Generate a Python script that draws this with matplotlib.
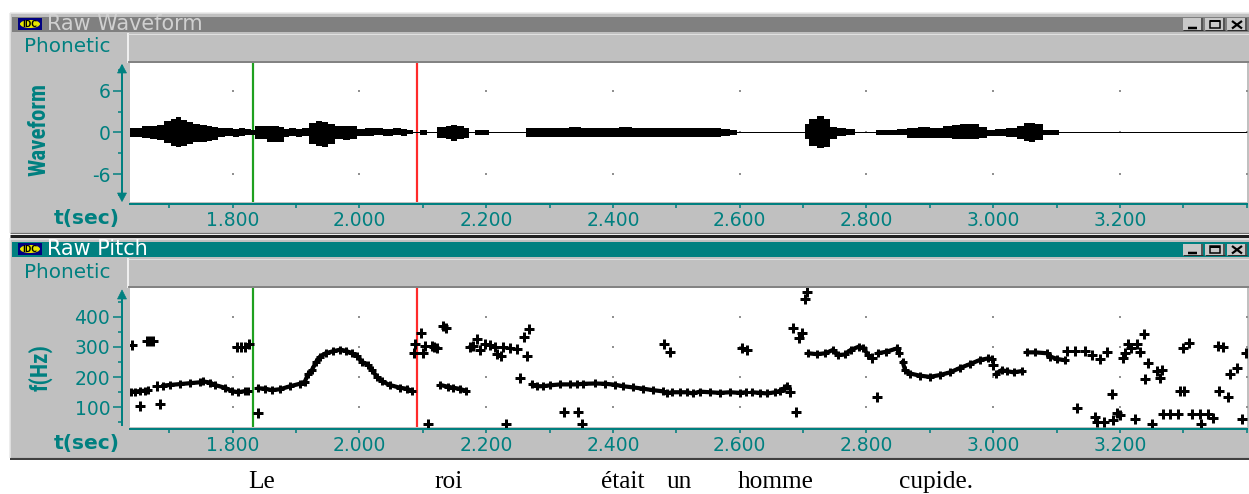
import matplotlib
matplotlib.use('Agg')
import matplotlib.pyplot as plt
from matplotlib import font_manager as fm
from matplotlib.patches import Rectangle, Polygon, Ellipse
from matplotlib.ticker import FixedLocator, FixedFormatter

# ---------------- data ----------------
x_major = [1.8, 2.0, 2.2, 2.4, 2.6, 2.8, 3.0, 3.2, 3.4]
x_major_labels = ['1.800', '2.000', '2.200', '2.400', '2.600', '2.800', '3.000', '3.200', '']
x_minor = [1.7, 1.9, 2.1, 2.3, 2.5, 2.7, 2.9, 3.1, 3.3]
t_range = (1.6383, 3.4002)

wave_yticks = [-6, 0, 6]
wave_yminor = [-9, -3, 3, 9]
pitch_yticks = [100, 200, 300, 400]
pitch_yminor = [50, 150, 250, 350, 450]

cursor_green = 1.833
cursor_red = 2.0905

# waveform amplitude envelope (time, upper, lower)
wave_t = [1.639, 1.650, 1.664, 1.675, 1.687, 1.698, 1.708, 1.715, 1.723, 1.732, 1.743, 1.755,
          1.765, 1.771, 1.782, 1.795, 1.805, 1.815, 1.825, 1.833, 1.839, 1.850, 1.860, 1.870,
          1.878, 1.884, 1.895, 1.905, 1.915, 1.926, 1.936, 1.946, 1.955, 1.968, 1.980, 1.990,
          2.002, 2.015, 2.030, 2.045, 2.060, 2.070, 2.081, 2.089, 2.101, 2.112, 2.132, 2.140,
          2.149, 2.160, 2.170, 2.177, 2.188, 2.200, 2.208, 2.261, 2.265, 2.280, 2.300, 2.320,
          2.340, 2.360, 2.380, 2.400, 2.420, 2.440, 2.460, 2.480, 2.500, 2.520, 2.540, 2.560,
          2.580, 2.590, 2.600, 2.700, 2.705, 2.715, 2.729, 2.738, 2.746, 2.760, 2.775, 2.790,
          2.840, 2.855, 2.872, 2.890, 2.910, 2.930, 2.941, 2.955, 2.970, 2.985, 2.995, 3.010,
          3.030, 3.044, 3.052, 3.061, 3.072, 3.084, 3.100, 3.107, 3.400]
wave_hi = [0.6, 0.6, 0.9, 1.0, 1.1, 1.6, 1.9, 2.2, 1.8, 1.5, 1.2, 1.1,
           1.0, 0.8, 0.6, 0.7, 0.5, 0.6, 0.5, 0.3, 0.9, 1.0, 0.9, 0.9,
           0.8, 0.5, 0.6, 0.5, 0.6, 1.4, 1.6, 1.5, 1.2, 1.0, 1.0, 0.9,
           0.5, 0.6, 0.6, 0.5, 0.6, 0.5, 0.3, 0.12, 0.3, 0.12, 0.8, 1.0,
           1.1, 1.0, 0.7, 0.12, 0.3, 0.3, 0.12, 0.12, 0.6, 0.6, 0.7, 0.6,
           0.8, 0.6, 0.7, 0.6, 0.8, 0.6, 0.7, 0.6, 0.6, 0.6, 0.6, 0.6,
           0.5, 0.3, 0.12, 0.12, 1.2, 2.0, 2.4, 2.0, 0.8, 0.6, 0.5, 0.12,
           0.3, 0.5, 0.7, 0.8, 0.7, 0.9, 1.1, 1.2, 1.2, 0.8, 0.4, 0.5,
           0.6, 1.0, 1.3, 1.4, 1.2, 0.4, 0.3, 0.12, 0.12]
wave_lo = [-0.6, -0.7, -0.8, -0.9, -1.1, -1.5, -1.9, -2.1, -1.9, -1.6, -1.4, -1.3,
           -1.2, -1.1, -0.6, -0.5, -0.6, -0.5, -0.4, -0.3, -1.0, -1.0, -1.4, -1.3,
           -1.4, -0.6, -0.5, -0.6, -0.5, -1.7, -2.0, -2.1, -1.6, -1.0, -1.1, -1.0,
           -0.5, -0.5, -0.4, -0.5, -0.4, -0.5, -0.2, -0.12, -0.3, -0.12, -0.8, -1.0,
           -1.2, -1.0, -0.8, -0.12, -0.3, -0.3, -0.12, -0.12, -0.7, -0.6, -0.7, -0.6,
           -0.7, -0.6, -0.7, -0.6, -0.7, -0.6, -0.6, -0.6, -0.7, -0.6, -0.6, -0.6,
           -0.5, -0.3, -0.12, -0.12, -1.0, -2.0, -2.3, -2.1, -0.9, -0.5, -0.4, -0.12,
           -0.3, -0.4, -0.8, -0.8, -0.8, -0.8, -0.9, -1.0, -1.0, -0.8, -0.5, -0.5,
           -0.6, -0.9, -1.2, -1.3, -1.1, -0.4, -0.3, -0.12, -0.12]

# pitch contour segments (time s, Hz)
seg1a_t = [1.640, 1.646, 1.654, 1.662, 1.667]
seg1a_hz = [152, 152, 154, 155, 156]
seg1b_t = [1.690, 1.701, 1.717, 1.733, 1.749, 1.753, 1.765, 1.772, 1.788, 1.799, 1.809, 1.820, 1.824]
seg1b_hz = [172, 174, 177, 180, 183, 186, 182, 174, 165, 154, 150, 154, 155]
seg2_t = [1.840, 1.851, 1.862, 1.875, 1.891, 1.906, 1.914, 1.919, 1.925, 1.932, 1.938, 1.947, 1.959,
          1.970, 1.979, 1.988, 1.996, 2.004, 2.014, 2.020, 2.028, 2.036, 2.048, 2.064, 2.076, 2.083]
seg2_hz = [163, 162, 157, 160, 170, 178, 185, 209, 223, 251, 268, 279, 286,
           291, 287, 279, 271, 251, 240, 223, 201, 186, 174, 165, 161, 154]
seg3_t = [2.128, 2.140, 2.148, 2.159, 2.169]
seg3_hz = [174, 168, 165, 161, 154]
seg4_t = [2.272, 2.280, 2.290, 2.301, 2.317, 2.332, 2.343, 2.353, 2.372, 2.388, 2.403, 2.416, 2.432,
          2.447, 2.463, 2.479, 2.485, 2.493, 2.506, 2.517, 2.526, 2.537, 2.553, 2.569, 2.585, 2.600, 2.610]
seg4_hz = [176, 170, 170, 173, 176, 176, 176, 178, 179, 178, 175, 170, 166,
           162, 157, 153, 146, 150, 150, 150, 146, 152, 150, 148, 150, 148, 150]
seg5_t = [2.619, 2.632, 2.643, 2.656, 2.664, 2.670, 2.675]
seg5_hz = [150, 148, 146, 150, 155, 163, 171]
seg6_t = [2.708, 2.722, 2.735, 2.747, 2.755, 2.766, 2.775, 2.788, 2.795, 2.803]
seg6_hz = [279, 276, 279, 290, 273, 275, 290, 301, 296, 273]
seg7_t = [2.818, 2.831, 2.848, 2.852]
seg7_hz = [279, 284, 295, 279]
seg8_t = [2.857, 2.861, 2.869, 2.884, 2.900, 2.916, 2.932, 2.947, 2.963, 2.979, 2.992, 2.998]
seg8_hz = [251, 223, 212, 205, 201, 207, 216, 230, 243, 257, 262, 260]
seg9_t = [3.005, 3.013, 3.021, 3.032, 3.045]
seg9_hz = [212, 223, 220, 216, 220]
seg10_t = [3.053, 3.066, 3.085, 3.090, 3.101, 3.113]
seg10_hz = [282, 282, 279, 268, 260, 256]

# isolated pitch estimates
iso_t = [1.642, 1.665, 1.670, 1.674, 1.654, 1.686, 1.681, 1.807, 1.813, 1.820, 1.826, 1.840,
         2.088, 2.086, 2.097, 2.104, 2.100, 2.114, 2.118, 2.122, 2.132, 2.137, 2.175, 2.180,
         2.186, 2.191, 2.198, 2.206, 2.214, 2.217, 2.223, 2.227, 2.238, 2.249, 2.260, 2.264,
         2.268, 2.253, 2.109, 2.232, 2.323, 2.345, 2.351, 2.481, 2.490, 2.604, 2.611, 2.679,
         2.689, 2.706, 2.703, 2.684, 2.699, 2.694, 2.816, 2.809, 2.999, 3.116, 3.129, 3.145,
         3.156, 3.168, 3.179, 3.187, 3.132, 3.160, 3.163, 3.174, 3.189, 3.195, 3.200, 3.204,
         3.207, 3.213, 3.218, 3.226, 3.231, 3.237, 3.244, 3.239, 3.258, 3.266, 3.263, 3.300,
         3.309, 3.355, 3.363, 3.373, 3.384, 3.399, 3.223, 3.251, 3.268, 3.279, 3.292, 3.295,
         3.301, 3.313, 3.326, 3.339, 3.327, 3.347, 3.356, 3.370, 3.392]
iso_hz = [306, 320, 321, 318, 105, 111, 170, 300, 300, 300, 311, 82,
          309, 279, 347, 303, 279, 303, 300, 295, 370, 361, 300, 303,
          325, 290, 310, 305, 301, 276, 271, 299, 296, 293, 334, 270,
          358, 198, 44, 44, 85, 85, 44, 309, 284, 297, 289, 150,
          85, 483, 458, 362, 347, 328, 135, 262, 240, 287, 287, 287,
          273, 260, 284, 144, 97, 67, 53, 53, 58, 80, 74, 265,
          279, 309, 295, 309, 284, 342, 246, 193, 220, 223, 198, 295,
          314, 303, 301, 209, 231, 279, 61, 44, 77, 77, 77, 154,
          154, 77, 77, 77, 44, 64, 154, 135, 61]

caption_words = ['Le', 'roi', 'était', 'un', 'homme', 'cupide.']
caption_x = [262, 449, 623, 679, 776, 936]

# ---------------- style ----------------
W, H = 1249, 494
TEAL = '#008080'
GRAY = '#c0c0c0'
DGRAY = '#808080'
PX = 0.72  # points per pixel at dpi 100

fig = plt.figure(figsize=(W / 100, H / 100), dpi=100)
fig.patch.set_facecolor('white')
R = fig.canvas.get_renderer()

bg = fig.add_axes([0, 0, 1, 1], zorder=0)
bg.set_xlim(0, W)
bg.set_ylim(H, 0)
bg.axis('off')


def pick_condensed():
    names = {f.name for f in fm.fontManager.ttflist}
    for n in ['Roboto Condensed', 'Liberation Sans Narrow', 'Open Sans Condensed']:
        if n in names:
            return dict(family=n)
    for f in fm.fontManager.ttflist:
        if f.name == 'DejaVu Sans' and 'Condensed-Bold' in f.fname:
            return dict(family='DejaVu Sans', stretch='condensed')
    return dict(family='DejaVu Sans')


COND = pick_condensed()


def fit(txt, target, vertical=False):
    for _ in range(3):
        bb = txt.get_window_extent(renderer=R)
        cur = bb.height if vertical else bb.width
        if cur <= 0:
            break
        txt.set_fontsize(txt.get_fontsize() * target / cur)


def rect(x0, y0, x1, y1, fc, ec='none', lw=0.0, z=1):
    bg.add_patch(Rectangle((x0, y0), x1 - x0, y1 - y0, facecolor=fc,
                           edgecolor=ec, linewidth=lw, zorder=z))


def line(xs, ys, c, lwpx=1.0, z=2):
    bg.plot(xs, ys, color=c, lw=lwpx * PX, zorder=z, solid_capstyle='butt')


def window(top, bottom, title, active):
    rect(10, top, W, bottom, GRAY, z=1)
    line([10, W], [top + 0.5, top + 0.5], '#e8e8e8', 1.5)
    line([10.5, 10.5], [top, bottom], '#e8e8e8', 1.5)
    line([10, W], [bottom - 0.5, bottom - 0.5], '#707070', 1.2)
    rect(12, top + 3.7, W, top + 18.7, TEAL if active else DGRAY, z=2)
    # icon
    rect(18, top + 4.8, 42, top + 17.2, '#000080', z=3)
    bg.add_patch(Ellipse((30, top + 11), 20, 8, facecolor='#e8e800', edgecolor='none', zorder=4))
    bg.text(30, top + 11.2, 'IDC', fontsize=5.5, fontweight='bold', color='black',
            ha='center', va='center', zorder=5)
    t = bg.text(47, top + 11.0, title, color='white' if active else '#d0d0d0',
                fontsize=14, ha='left', va='center', zorder=5)
    # buttons
    for (x0, x1) in [(1183, 1203), (1205, 1225), (1227, 1247)]:
        rect(x0, top + 5.5, x1, top + 17.5, '#c8c8c8', z=4)
        line([x1 - 0.5, x1 - 0.5], [top + 5.5, top + 17.5], '#303030', 1.5, z=5)
        line([x0, x1], [top + 17, top + 17], '#303030', 1.0, z=5)
    line([1188, 1197], [top + 15, top + 15], 'black', 2.5, z=6)
    bg.add_patch(Rectangle((1210, top + 8), 10, 7, facecolor='none', edgecolor='black',
                           linewidth=1.5 * PX, zorder=6))
    line([1210, 1220], [top + 8.5, top + 8.5], 'black', 2.0, z=6)
    line([1232, 1242], [top + 8, top + 15.5], 'black', 2.2, z=6)
    line([1232, 1242], [top + 15.5, top + 8], 'black', 2.2, z=6)
    # phonetic bar
    p = bg.text(24, top + 34, 'Phonetic', color=TEAL, fontsize=14, ha='left', va='center', zorder=5)
    rect(128, top + 20.3, W, top + 49.7, GRAY, z=2)
    line([128.5, 128.5], [top + 20.3, top + 49.7], 'white', 1.5, z=3)
    line([128, W], [top + 20.8, top + 20.8], '#e0e0e0', 1.0, z=3)
    line([128, W], [top + 49.2, top + 49.2], '#707070', 1.5, z=3)
    return t, p


t1, p1 = window(13, 233, 'Raw Waveform', False)
line([10, W], [235.5, 235.5], '#202020', 3.0, z=2)
t2, p2 = window(238, 458, 'Raw Pitch', True)
line([10, W], [459, 459], '#404040', 2.0, z=2)

fit(t1, 155)
t2.set_fontsize(t1.get_fontsize())
fit(p1, 86)
p2.set_fontsize(p1.get_fontsize())

# axis arrows (decoration on the pixel canvas)
for (xa, ytip, ybase) in [(122, 64.5, 73), (122, 201.5, 193), (122, 290, 299)]:
    bg.add_patch(Polygon([(xa - 4.5, ybase), (xa + 4.5, ybase), (xa, ytip)], closed=True,
                         facecolor=TEAL, edgecolor=TEAL, lw=0.5, zorder=5))

# rotated y labels and t(sec)
yl1 = bg.text(39, 129, 'Waveform', rotation=90, color=TEAL, fontweight='bold',
              ha='center', va='center', fontsize=14, zorder=5, **COND)
fit(yl1, 93, vertical=True)
yl2 = bg.text(40.5, 367, 'f(Hz)', rotation=90, color=TEAL, fontweight='bold',
              ha='center', va='center', fontsize=yl1.get_fontsize(), zorder=5, **COND)
for yy in (218.5, 443.5):
    ts = bg.text(87, yy, 't(sec)', color=TEAL, fontweight='bold', ha='center', va='center',
                 fontsize=13, zorder=5)
    fit(ts, 66)

# caption
cap = []
for w, xc in zip(caption_words, caption_x):
    cap.append(bg.text(xc, 488, w, family='Liberation Serif', fontsize=18, color='black',
                       ha='center', va='baseline', zorder=5))
fit(cap[4], 76)
for c in cap:
    c.set_fontsize(cap[4].get_fontsize())

# ---------------- data axes ----------------
ax1 = fig.add_axes([130 / W, 1 - 202 / H, 1117 / W, 139 / H], zorder=2)
ax2 = fig.add_axes([130 / W, 1 - 427 / H, 1117 / W, 139 / H], zorder=2)

for ax, ymaj, ymin, ylim, bounds in [
        (ax1, wave_yticks, wave_yminor, (-10, 10), (-9.5, 9.5)),
        (ax2, pitch_yticks, pitch_yminor, (35, 495), (40, 480))]:
    ax.set_facecolor('white')
    ax.set_xlim(*t_range)
    ax.set_ylim(*ylim)
    ax.spines['top'].set_visible(False)
    ax.spines['right'].set_visible(False)
    ax.spines['bottom'].set_position(('outward', 1.6))
    ax.spines['bottom'].set_color(TEAL)
    ax.spines['bottom'].set_linewidth(2.0 * PX)
    ax.spines['left'].set_position(('outward', 8 * PX))
    ax.spines['left'].set_color(TEAL)
    ax.spines['left'].set_linewidth(2.0 * PX)
    ax.spines['left'].set_bounds(*bounds)
    ax.xaxis.set_major_locator(FixedLocator(x_major))
    ax.xaxis.set_major_formatter(FixedFormatter(x_major_labels))
    ax.xaxis.set_minor_locator(FixedLocator(x_minor))
    ax.yaxis.set_major_locator(FixedLocator(ymaj))
    ax.yaxis.set_major_formatter(FixedFormatter([str(v) for v in ymaj]))
    ax.yaxis.set_minor_locator(FixedLocator(ymin))
    ax.tick_params(axis='x', which='both', direction='out', length=4 * PX, width=1.6 * PX,
                   color=TEAL, labelcolor=TEAL, labelsize=13.5, pad=2)
    ax.tick_params(axis='y', which='major', direction='out', length=9 * PX, width=1.5 * PX,
                   color=TEAL, labelcolor=TEAL, labelsize=13.5, pad=2)
    ax.tick_params(axis='y', which='minor', direction='out', length=4 * PX, width=1.5 * PX,
                   color=TEAL)
    # grid dots at major tick intersections
    gx = [x for x in x_major for _ in ymaj]
    gy = [y for _ in x_major for y in ymaj]
    ax.scatter(gx, gy, s=1.2, color='#909090', marker='s', linewidths=0, zorder=1.5)
    ax.axvline(cursor_green, color='#1fa01f', lw=2.2 * PX, zorder=2)
    ax.axvline(cursor_red, color='#ff2a2a', lw=2.2 * PX, zorder=2)

# waveform
ax1.fill_between(wave_t, wave_lo, wave_hi, step='mid', color='black', lw=0, zorder=3)

# pitch
segments = [(seg1a_t, seg1a_hz), (seg1b_t, seg1b_hz), (seg2_t, seg2_hz), (seg3_t, seg3_hz),
            (seg4_t, seg4_hz), (seg5_t, seg5_hz), (seg6_t, seg6_hz), (seg7_t, seg7_hz),
            (seg8_t, seg8_hz), (seg9_t, seg9_hz), (seg10_t, seg10_hz)]
for st, sh in segments:
    ax2.plot(st, sh, color='black', lw=4.2 * PX, zorder=3, solid_capstyle='round')
    ax2.plot(st, sh, ls='none', marker='+', ms=6, mew=3.0 * PX, color='black', zorder=4)
ax2.plot(iso_t, iso_hz, ls='none', marker='+', ms=6.5, mew=3.0 * PX, color='black', zorder=4)

fig.savefig('out.png', dpi=100, facecolor='white')
